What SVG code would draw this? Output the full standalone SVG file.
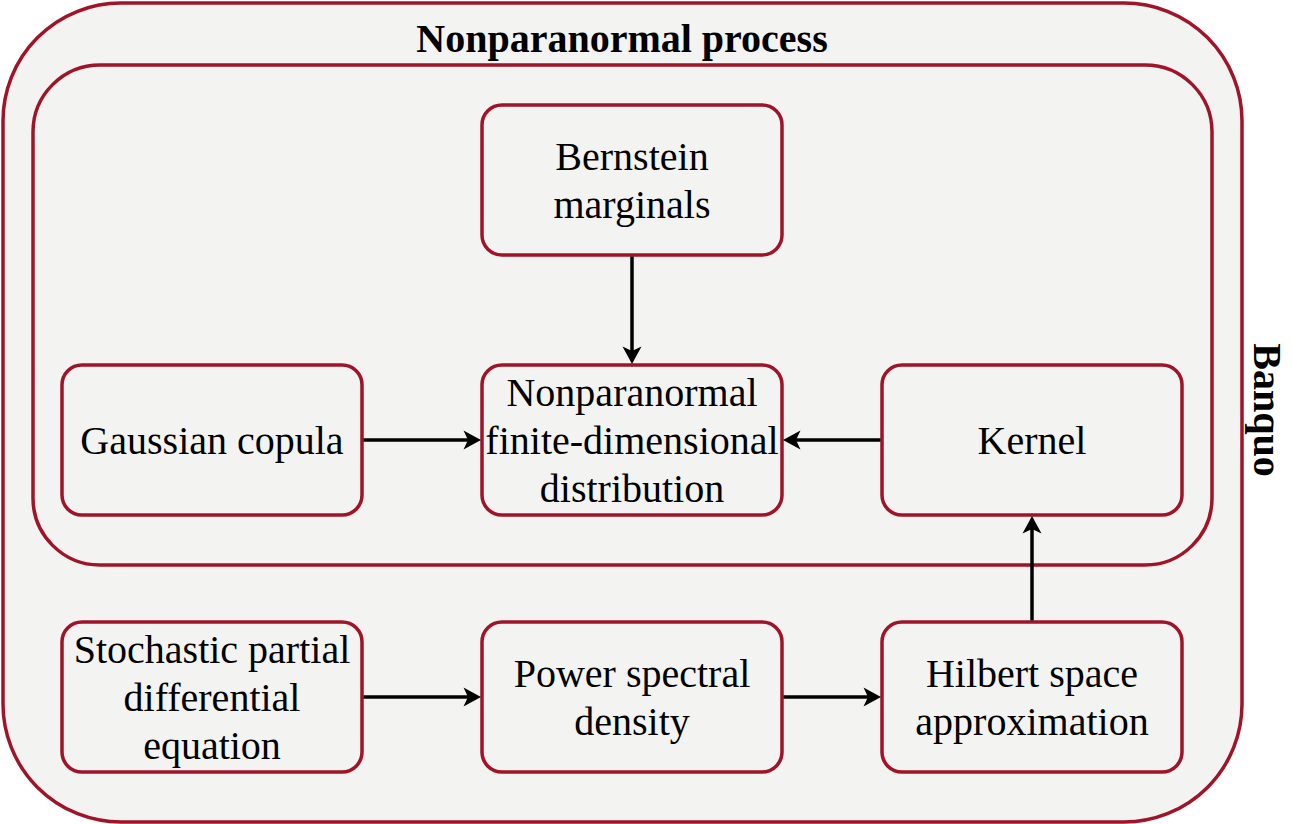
<svg xmlns="http://www.w3.org/2000/svg" width="1292" height="824" viewBox="0 0 1292 824">
<style>
.box{fill:#F3F3F2;stroke:#A0142A;stroke-width:3.5}
.node{fill:#F3F3F2;stroke:#A0142A;stroke-width:3.5}
.t{font-family:"Liberation Serif","Times New Roman",serif;font-size:40px;fill:#000;text-anchor:middle}
.b{font-weight:bold}
.edge{stroke:#000;stroke-width:3.5;fill:none;marker-end:url(#arr)}
</style>
<defs>
<marker id="arr" markerUnits="userSpaceOnUse" viewBox="-5 -10 19 20" markerWidth="19" markerHeight="20" refX="0" refY="0" orient="auto">
<path d="M13,0 L-4.5,-9.5 L0,0 L-4.5,9.5 Z" fill="#000"/>
</marker>
</defs>
<rect width="1292" height="824" fill="#FFFFFF"/>
<g id="outer">
<rect class="box" x="3" y="3" width="1239" height="819" rx="118" ry="118"/>
<text class="t b" x="622" y="52">Nonparanormal process</text>
<text class="t b" transform="translate(1254,410) rotate(90)" x="0" y="0">Banquo</text>
</g>
<g id="inner">
<rect class="box" x="33" y="65" width="1179" height="500" rx="67" ry="67"/>
</g>
<g id="bernstein">
<rect class="node" x="482" y="105" width="300" height="150" rx="20"/>
<text class="t" x="632" y="169.5">Bernstein</text>
<text class="t" x="632" y="217.5">marginals</text>
</g>
<g id="gaussian">
<rect class="node" x="62" y="365" width="300" height="150" rx="20"/>
<text class="t" x="212" y="453.5">Gaussian copula</text>
</g>
<g id="npfdd">
<rect class="node" x="482" y="365" width="300" height="150" rx="20"/>
<text class="t" x="632" y="405.5">Nonparanormal</text>
<text class="t" x="632" y="453.5">finite-dimensional</text>
<text class="t" x="632" y="501.5">distribution</text>
</g>
<g id="kernel">
<rect class="node" x="882" y="365" width="300" height="150" rx="20"/>
<text class="t" x="1032" y="453.5">Kernel</text>
</g>
<g id="spde">
<rect class="node" x="62" y="622" width="300" height="150" rx="20"/>
<text class="t" x="212" y="662.5">Stochastic partial</text>
<text class="t" x="212" y="710.5">differential</text>
<text class="t" x="212" y="758.5">equation</text>
</g>
<g id="psd">
<rect class="node" x="482" y="622" width="300" height="150" rx="20"/>
<text class="t" x="632" y="686.5">Power spectral</text>
<text class="t" x="632" y="734.5">density</text>
</g>
<g id="hilbert">
<rect class="node" x="882" y="622" width="300" height="150" rx="20"/>
<text class="t" x="1032" y="686.5">Hilbert space</text>
<text class="t" x="1032" y="734.5">approximation</text>
</g>
<g id="connectors">
<path class="edge" d="M632,256.5 L632,351"/>
<path class="edge" d="M363.5,440 L468,440"/>
<path class="edge" d="M880.5,440 L796,440"/>
<path class="edge" d="M1032,620.5 L1032,529"/>
<path class="edge" d="M363.5,697 L468,697"/>
<path class="edge" d="M783.5,697 L868,697"/>
</g>
</svg>
